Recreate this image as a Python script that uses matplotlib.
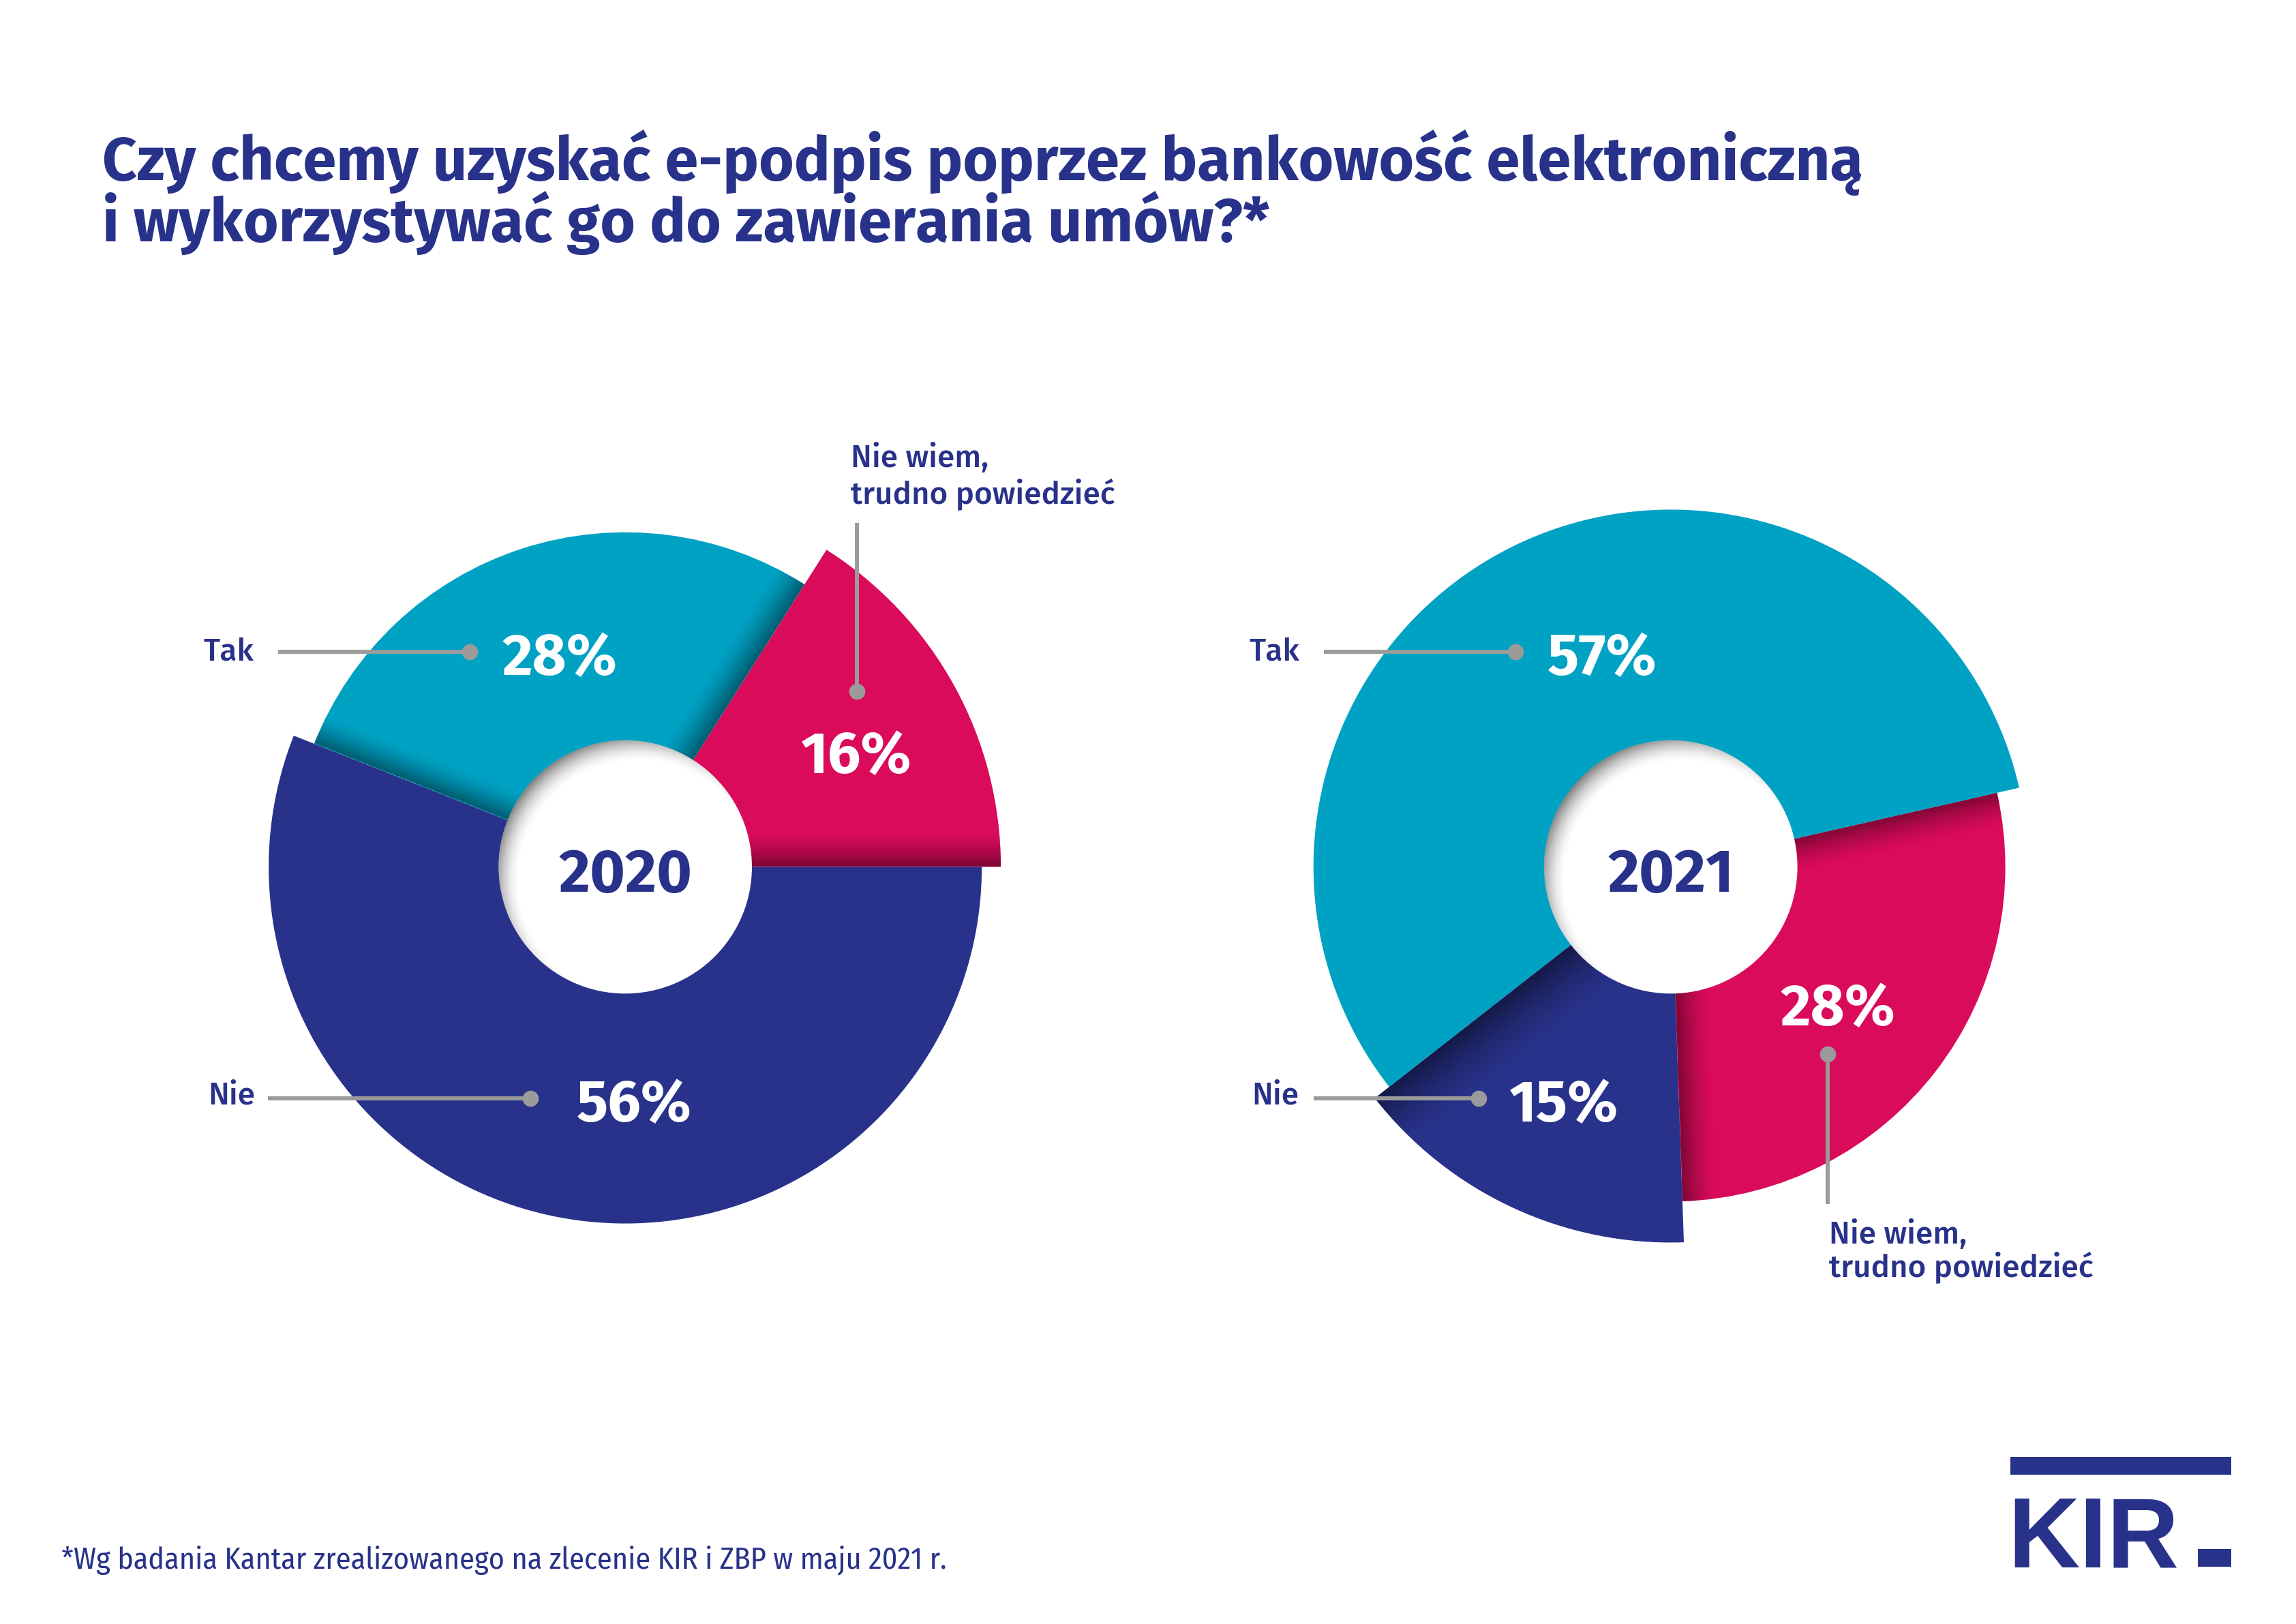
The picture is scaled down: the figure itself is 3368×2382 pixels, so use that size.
import matplotlib
matplotlib.use('Agg')
import matplotlib.pyplot as plt
from matplotlib.patches import Wedge, Circle, Rectangle
import numpy as np

# --- dane ---
kategorie = ['Tak', 'Nie', 'Nie wiem,\ntrudno powiedzieć']
lata = ['2020', '2021']
wartosci_2020 = [28, 56, 16]
wartosci_2021 = [57, 15, 28]
tytul = ['Czy chcemy uzyskać e-podpis poprzez bankowość elektroniczną',
         'i wykorzystywać go do zawierania umów?*']
przypis = '*Wg badania Kantar zrealizowanego na zlecenie KIR i ZBP w maju 2021 r.'

GRANAT = '#28328a'
TURKUS = '#00a2c4'
ROZ = '#da0b5b'
SZARY = '#9b9b9b'
kolory = [TURKUS, GRANAT, ROZ]

W, H = 1568, 1109          # uklad liczony w pikselach podgladu
SKALA = 3368 / 1568
FONT = ['Fira Sans', 'Open Sans', 'DejaVu Sans']


def yy(y):
    return H - y


fig = plt.figure(figsize=(33.68, 23.82), dpi=100)
ax = fig.add_axes([0, 0, 1, 1])
ax.axis('off')


def obraz_alfa(ax, alfa, ext, klip, z):
    img = np.zeros(alfa.shape + (4,))
    img[..., 3] = alfa
    im = ax.imshow(img, extent=ext, origin='lower', zorder=z, interpolation='bilinear')
    im.set_clip_path(klip)


def cien_krawedzi(ax, cx, cy, r, kat, strona, klin, szer, alfa):
    t = np.radians(kat)
    u = np.array([np.cos(t), np.sin(t)])
    nv = np.array([-np.sin(t), np.cos(t)]) * strona
    xs = np.linspace(cx - r, cx + r, 500)
    ys = np.linspace(cy - r, cy + r, 500)
    X, Y = np.meshgrid(xs, ys)
    d = (X - cx) * nv[0] + (Y - cy) * nv[1]
    wzdl = (X - cx) * u[0] + (Y - cy) * u[1]
    a = np.where((d >= 0) & (wzdl > 0), np.clip(1 - d / szer, 0, 1) ** 1.5 * alfa, 0)
    obraz_alfa(ax, a, (cx - r, cx + r, cy - r, cy + r), klin, 2)


def cien_otworu(ax, cx, cy, r_in, otwor):
    xs = np.linspace(cx - r_in, cx + r_in, 400)
    ys = np.linspace(cy - r_in, cy + r_in, 400)
    X, Y = np.meshgrid(xs, ys)
    d = np.hypot(X - (cx + 9), Y - (cy - 9))
    a = np.clip((d - (r_in - 6)) / 24, 0, 1) ** 1.8 * 0.8
    obraz_alfa(ax, a, (cx - r_in, cx + r_in, cy - r_in, cy + r_in), otwor, 4)


def donut(ax, cx, cy, wartosci, rok, start, promienie, cienie, r_in=86.5):
    kolejnosc = [2, 0, 1]
    suma = sum(wartosci)
    t = start
    for i in kolejnosc:
        rozp = 360 * wartosci[i] / suma
        klin = Wedge((cx, cy), promienie[i], t, t + rozp, facecolor=kolory[i],
                     edgecolor='none', zorder=1)
        ax.add_patch(klin)
        for strona, alfa, szer in cienie.get(i, []):
            kat = t if strona == 1 else t + rozp
            cien_krawedzi(ax, cx, cy, promienie[i] + 5, kat, strona, klin, szer, alfa)
        t += rozp
    otwor = Circle((cx, cy), r_in, facecolor='white', edgecolor='none', zorder=3)
    ax.add_patch(otwor)
    cien_otworu(ax, cx, cy, r_in, otwor)
    ax.text(cx, cy - 17, rok, ha='center', va='baseline', fontsize=64, fontweight='bold',
            color=GRANAT, family=FONT, zorder=6)


def procent(ax, proc, x, y_bazy):
    ax.text(x, yy(y_bazy), proc, ha='center', va='baseline', fontsize=62,
            fontweight='bold', color='white', family=FONT, zorder=6)


def etykieta_pozioma(ax, tekst, x_tekst, y_bazy, x0, x1, y_linii, proc, x_proc, y_proc):
    ax.text(x_tekst, yy(y_bazy), tekst, ha='left', va='baseline', fontsize=33,
            fontweight='medium', color=GRANAT, family=FONT, zorder=6)
    ax.plot([x0, x1], [yy(y_linii), yy(y_linii)], color=SZARY, lw=4.3,
            solid_capstyle='butt', zorder=5)
    ax.plot(x1, yy(y_linii), 'o', ms=17, color=SZARY, mec='none', zorder=5)
    procent(ax, proc, x_proc, y_proc)


def etykieta_pionowa(ax, tekst, x_tekst, bazy, x_lin, y0, y_kropki, proc, x_proc, y_proc):
    for linia, b in zip(tekst.split('\n'), bazy):
        ax.text(x_tekst, yy(b), linia, ha='left', va='baseline', fontsize=33,
                fontweight='medium', color=GRANAT, family=FONT, zorder=6)
    ax.plot([x_lin, x_lin], [yy(y0), yy(y_kropki)], color=SZARY, lw=4.3,
            solid_capstyle='butt', zorder=5)
    ax.plot(x_lin, yy(y_kropki), 'o', ms=17, color=SZARY, mec='none', zorder=5)
    procent(ax, proc, x_proc, y_proc)


# --- wykres 2020 ---
donut(ax, 427, yy(592), wartosci_2020, lata[0], 0,
      promienie=[228.5, 243.5, 256.5],
      cienie={2: [(1, 0.45, 24)], 0: [(1, 0.45, 24), (-1, 0.45, 22)]})
etykieta_pozioma(ax, kategorie[0], 139, 451, 190, 321, 445,
                 f'{wartosci_2020[0]}%', 382, 461)
etykieta_pozioma(ax, kategorie[1], 142, 754, 183, 362, 750,
                 f'{wartosci_2020[1]}%', 433, 766)
etykieta_pionowa(ax, kategorie[2], 581, [319, 344], 585, 357, 472,
                 f'{wartosci_2020[2]}%', 585, 528)

# --- wykres 2021 ---
donut(ax, 1141, yy(592), wartosci_2021, lata[1], 272,
      promienie=[244, 256.5, 228.5],
      cienie={2: [(1, 0.42, 24), (-1, 0.42, 24)], 1: [(1, 0.5, 40)]})
etykieta_pozioma(ax, kategorie[0], 853, 451, 904, 1035, 445,
                 f'{wartosci_2021[0]}%', 1094, 461)
etykieta_pozioma(ax, kategorie[1], 855, 754, 897, 1010, 750,
                 f'{wartosci_2021[1]}%', 1068, 766)
etykieta_pionowa(ax, kategorie[2], 1249, [849, 872], 1248, 822, 720,
                 f'{wartosci_2021[2]}%', 1255, 700)

# --- tytul i przypis ---
rend = fig.canvas.get_renderer()


def dopasuj(txt, szer):
    bb = txt.get_window_extent(renderer=rend)
    txt.set_fontsize(txt.get_fontsize() * szer * SKALA / bb.width)


t1 = ax.text(70, yy(123), tytul[0], ha='left', va='baseline', fontsize=60,
             fontweight='bold', color=GRANAT, family=FONT)
t2 = ax.text(70, yy(165), tytul[1], ha='left', va='baseline', fontsize=60,
             fontweight='bold', color=GRANAT, family=FONT)
dopasuj(t1, 1202)
t2.set_fontsize(t1.get_fontsize())

tp = ax.text(42, yy(1071), przypis, ha='left', va='baseline', fontsize=26,
             fontweight='normal', color=GRANAT,
             family=['Fira Sans Condensed', 'Liberation Sans Narrow', 'DejaVu Sans'])
dopasuj(tp, 604)

# --- logo KIR ---
ax.add_patch(Rectangle((1373, yy(1007)), 151, 12, facecolor=GRANAT, edgecolor='none'))
ax.add_patch(Rectangle((1501, yy(1070)), 23, 12, facecolor=GRANAT, edgecolor='none'))
ax.text(1371, yy(1070), 'KIR', ha='left', va='baseline', fontsize=105,
        fontweight='bold', color=GRANAT, family=['Liberation Sans', 'DejaVu Sans'])

ax.set_xlim(0, W)
ax.set_ylim(0, H)
ax.set_aspect('auto')
fig.savefig('out.png', dpi=100, facecolor='white')
